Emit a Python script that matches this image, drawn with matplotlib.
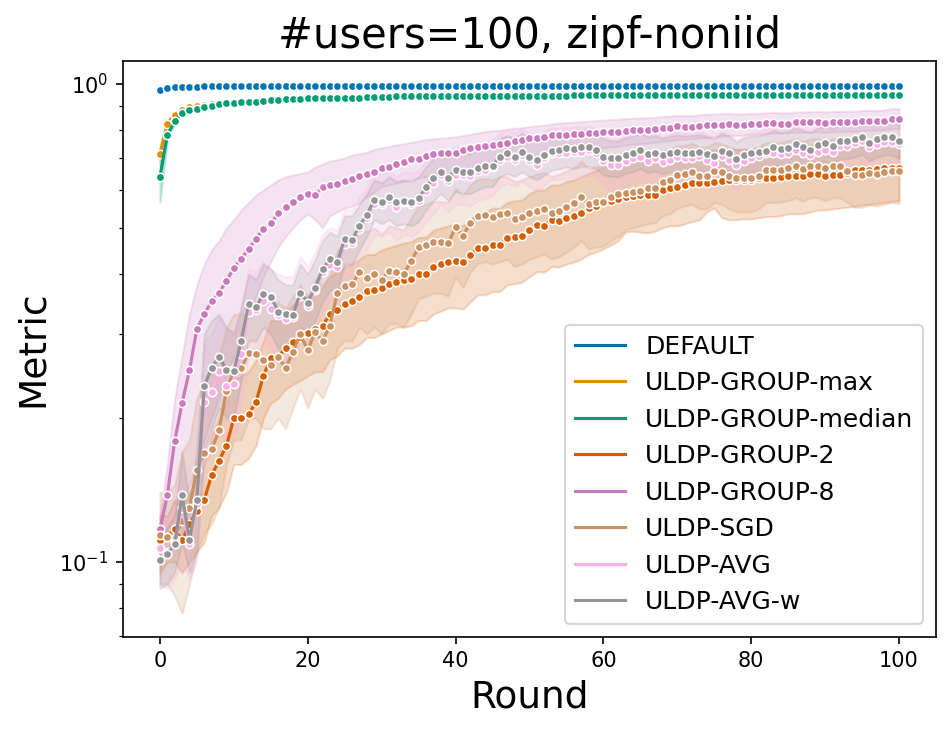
# imports
import numpy                as np
import matplotlib
matplotlib.use("Agg")
import matplotlib.pyplot    as plt
from matplotlib.lines import Line2D


# rounds 0..100
rounds = np.arange(101)

# mean metric per round
default_mean = [0.972, 0.982, 0.985, 0.986, 0.987, 0.987, 0.988, 0.988, 0.988, 0.988,
                0.988, 0.989, 0.989, 0.989, 0.989, 0.989, 0.989, 0.989, 0.990, 0.990,
                0.990, 0.990, 0.990, 0.990, 0.990, 0.990, 0.990, 0.990, 0.990, 0.990,
                0.990, 0.990, 0.990, 0.990, 0.990, 0.990, 0.990, 0.990, 0.990, 0.990,
                0.990, 0.990, 0.990, 0.990, 0.990, 0.990, 0.990, 0.990, 0.990, 0.990,
                0.990, 0.990, 0.990, 0.990, 0.990, 0.990, 0.990, 0.990, 0.990, 0.990,
                0.990, 0.990, 0.990, 0.990, 0.990, 0.990, 0.990, 0.990, 0.990, 0.990,
                0.990, 0.990, 0.990, 0.990, 0.990, 0.990, 0.990, 0.990, 0.990, 0.990,
                0.990, 0.990, 0.990, 0.990, 0.990, 0.990, 0.990, 0.990, 0.990, 0.990,
                0.990, 0.990, 0.990, 0.990, 0.990, 0.990, 0.990, 0.990, 0.990, 0.990, 0.990]

max_mean = [0.714, 0.826, 0.863, 0.883, 0.893, 0.900, 0.905, 0.909, 0.913, 0.915,
            0.917, 0.919, 0.921, 0.922, 0.924, 0.927, 0.928, 0.930, 0.931, 0.933,
            0.934, 0.934, 0.934, 0.935, 0.935, 0.937, 0.937, 0.937, 0.940, 0.940,
            0.942, 0.942, 0.943, 0.943, 0.943, 0.944, 0.944, 0.944, 0.944, 0.944,
            0.944, 0.945, 0.945, 0.945, 0.945, 0.945, 0.945, 0.945, 0.945, 0.946,
            0.946, 0.946, 0.946, 0.946, 0.946, 0.946, 0.947, 0.947, 0.947, 0.947,
            0.947, 0.947, 0.947, 0.947, 0.947, 0.947, 0.948, 0.948, 0.948, 0.948,
            0.948, 0.948, 0.948, 0.948, 0.948, 0.948, 0.948, 0.948, 0.948, 0.948,
            0.948, 0.948, 0.949, 0.949, 0.949, 0.949, 0.949, 0.949, 0.949, 0.949,
            0.949, 0.949, 0.949, 0.949, 0.949, 0.949, 0.949, 0.949, 0.949, 0.949, 0.949]

median_mean = [0.638, 0.781, 0.836, 0.868, 0.880, 0.886, 0.894, 0.901, 0.908, 0.911,
               0.914, 0.916, 0.918, 0.918, 0.921, 0.926, 0.926, 0.929, 0.930, 0.932,
               0.933, 0.933, 0.933, 0.934, 0.934, 0.936, 0.936, 0.936, 0.939, 0.939,
               0.941, 0.941, 0.942, 0.942, 0.942, 0.943, 0.943, 0.943, 0.943, 0.943,
               0.943, 0.944, 0.944, 0.944, 0.944, 0.944, 0.944, 0.944, 0.944, 0.945,
               0.945, 0.945, 0.945, 0.945, 0.945, 0.945, 0.946, 0.946, 0.946, 0.946,
               0.946, 0.946, 0.946, 0.946, 0.946, 0.946, 0.947, 0.947, 0.947, 0.947,
               0.947, 0.947, 0.947, 0.947, 0.947, 0.947, 0.947, 0.947, 0.947, 0.947,
               0.947, 0.947, 0.948, 0.948, 0.948, 0.948, 0.948, 0.948, 0.948, 0.948,
               0.948, 0.948, 0.948, 0.948, 0.948, 0.948, 0.948, 0.948, 0.948, 0.948, 0.948]

g2_mean = [0.111, 0.113, 0.117, 0.111, 0.120, 0.128, 0.135, 0.152, 0.163, 0.175,
           0.200, 0.200, 0.204, 0.216, 0.245, 0.267, 0.268, 0.281, 0.289, 0.295,
           0.302, 0.307, 0.312, 0.330, 0.337, 0.347, 0.351, 0.358, 0.369, 0.370,
           0.374, 0.382, 0.386, 0.389, 0.391, 0.400, 0.400, 0.414, 0.421, 0.425,
           0.426, 0.424, 0.438, 0.453, 0.453, 0.461, 0.461, 0.476, 0.478, 0.480,
           0.494, 0.507, 0.505, 0.520, 0.518, 0.525, 0.530, 0.536, 0.549, 0.556,
           0.565, 0.570, 0.574, 0.579, 0.583, 0.586, 0.586, 0.586, 0.600, 0.605,
           0.610, 0.615, 0.620, 0.620, 0.620, 0.625, 0.627, 0.630, 0.630, 0.630,
           0.630, 0.635, 0.635, 0.635, 0.638, 0.642, 0.642, 0.642, 0.648, 0.648,
           0.642, 0.645, 0.645, 0.652, 0.661, 0.661, 0.661, 0.663, 0.666, 0.666, 0.666]

g8_mean = [0.117, 0.138, 0.179, 0.215, 0.252, 0.307, 0.330, 0.351, 0.366, 0.387,
           0.412, 0.431, 0.451, 0.475, 0.497, 0.511, 0.536, 0.554, 0.565, 0.581,
           0.588, 0.586, 0.608, 0.614, 0.617, 0.628, 0.632, 0.643, 0.648, 0.655,
           0.666, 0.671, 0.680, 0.688, 0.696, 0.697, 0.707, 0.714, 0.716, 0.716,
           0.718, 0.728, 0.734, 0.739, 0.742, 0.745, 0.749, 0.754, 0.761, 0.764,
           0.770, 0.772, 0.774, 0.782, 0.782, 0.782, 0.786, 0.786, 0.789, 0.791,
           0.792, 0.793, 0.795, 0.797, 0.800, 0.801, 0.801, 0.804, 0.808, 0.808,
           0.817, 0.812, 0.812, 0.817, 0.821, 0.821, 0.821, 0.825, 0.821, 0.821,
           0.825, 0.825, 0.828, 0.828, 0.825, 0.825, 0.832, 0.832, 0.832, 0.834,
           0.830, 0.832, 0.832, 0.832, 0.832, 0.838, 0.838, 0.836, 0.838, 0.843, 0.843]

sgd_mean = [0.114, 0.113, 0.112, 0.122, 0.130, 0.156, 0.169, 0.172, 0.189, 0.228,
            0.253, 0.254, 0.274, 0.273, 0.264, 0.258, 0.268, 0.255, 0.275, 0.300,
            0.277, 0.303, 0.290, 0.312, 0.365, 0.378, 0.381, 0.405, 0.393, 0.401,
            0.389, 0.407, 0.405, 0.401, 0.426, 0.455, 0.461, 0.468, 0.468, 0.464,
            0.502, 0.481, 0.513, 0.529, 0.532, 0.526, 0.535, 0.536, 0.521, 0.526,
            0.536, 0.543, 0.547, 0.536, 0.543, 0.552, 0.563, 0.581, 0.560, 0.565,
            0.567, 0.581, 0.589, 0.590, 0.594, 0.598, 0.605, 0.605, 0.625, 0.630,
            0.645, 0.648, 0.655, 0.642, 0.642, 0.659, 0.655, 0.642, 0.635, 0.635,
            0.635, 0.642, 0.661, 0.661, 0.661, 0.666, 0.674, 0.663, 0.674, 0.674,
            0.666, 0.674, 0.674, 0.659, 0.645, 0.645, 0.652, 0.648, 0.655, 0.659, 0.657]

avg_mean = [0.107, 0.105, 0.110, 0.130, 0.109, 0.132, 0.216, 0.227, 0.251, 0.234,
            0.236, 0.273, 0.334, 0.336, 0.352, 0.339, 0.329, 0.323, 0.326, 0.360,
            0.343, 0.370, 0.405, 0.418, 0.415, 0.462, 0.465, 0.497, 0.525, 0.562,
            0.560, 0.572, 0.554, 0.567, 0.561, 0.570, 0.598, 0.620, 0.645, 0.626,
            0.645, 0.645, 0.643, 0.656, 0.660, 0.669, 0.694, 0.703, 0.694, 0.710,
            0.694, 0.677, 0.700, 0.716, 0.716, 0.716, 0.722, 0.720, 0.726, 0.716,
            0.690, 0.677, 0.677, 0.690, 0.699, 0.705, 0.690, 0.700, 0.686, 0.694,
            0.705, 0.699, 0.699, 0.707, 0.694, 0.684, 0.707, 0.694, 0.677, 0.690,
            0.699, 0.707, 0.716, 0.716, 0.713, 0.716, 0.728, 0.718, 0.711, 0.722,
            0.728, 0.722, 0.741, 0.741, 0.754, 0.760, 0.737, 0.748, 0.756, 0.756, 0.748]

avgw_mean = [0.101, 0.104, 0.109, 0.138, 0.111, 0.135, 0.233, 0.255, 0.269, 0.252,
             0.251, 0.290, 0.347, 0.341, 0.364, 0.359, 0.334, 0.331, 0.329, 0.366,
             0.349, 0.375, 0.410, 0.430, 0.424, 0.475, 0.472, 0.505, 0.532, 0.573,
             0.567, 0.581, 0.565, 0.570, 0.565, 0.577, 0.608, 0.635, 0.655, 0.635,
             0.661, 0.653, 0.653, 0.666, 0.674, 0.674, 0.705, 0.716, 0.705, 0.722,
             0.705, 0.694, 0.711, 0.725, 0.728, 0.734, 0.730, 0.737, 0.737, 0.728,
             0.705, 0.699, 0.699, 0.710, 0.716, 0.728, 0.713, 0.718, 0.709, 0.716,
             0.720, 0.716, 0.718, 0.722, 0.714, 0.707, 0.725, 0.716, 0.696, 0.711,
             0.716, 0.719, 0.725, 0.737, 0.730, 0.734, 0.748, 0.737, 0.728, 0.745,
             0.751, 0.742, 0.760, 0.761, 0.767, 0.776, 0.754, 0.766, 0.774, 0.774, 0.761]

# confidence bands (lower / upper)
max_lo    = [0.680, 0.815, 0.858]
max_hi    = [0.745, 0.835, 0.868]
median_lo = [0.565, 0.760, 0.830]
median_hi = [0.700, 0.800, 0.845]

g2_lo = [0.095, 0.100, 0.100, 0.095, 0.100, 0.105, 0.110, 0.125, 0.130, 0.140,
         0.160, 0.160, 0.165, 0.175, 0.200, 0.215, 0.220, 0.230, 0.235, 0.240,
         0.245, 0.250, 0.250, 0.265, 0.270, 0.280, 0.280, 0.285, 0.295, 0.295,
         0.300, 0.305, 0.310, 0.310, 0.312, 0.320, 0.320, 0.330, 0.335, 0.340,
         0.340, 0.338, 0.350, 0.362, 0.362, 0.368, 0.368, 0.380, 0.382, 0.385,
         0.395, 0.405, 0.404, 0.415, 0.414, 0.420, 0.424, 0.430, 0.440, 0.445,
         0.452, 0.460, 0.470, 0.490, 0.492, 0.490, 0.488, 0.492, 0.500, 0.505,
         0.505, 0.510, 0.515, 0.520, 0.540, 0.550, 0.525, 0.520, 0.520, 0.522,
         0.522, 0.525, 0.528, 0.528, 0.530, 0.535, 0.535, 0.535, 0.540, 0.545,
         0.545, 0.548, 0.550, 0.552, 0.555, 0.558, 0.560, 0.562, 0.565, 0.568, 0.570]
g2_hi = [0.125, 0.125, 0.135, 0.130, 0.140, 0.150, 0.160, 0.185, 0.200, 0.215,
         0.240, 0.245, 0.250, 0.265, 0.290, 0.320, 0.320, 0.335, 0.345, 0.355,
         0.360, 0.370, 0.375, 0.395, 0.405, 0.415, 0.420, 0.430, 0.440, 0.440,
         0.450, 0.455, 0.460, 0.465, 0.468, 0.478, 0.478, 0.495, 0.500, 0.505,
         0.508, 0.505, 0.520, 0.540, 0.540, 0.550, 0.550, 0.565, 0.570, 0.572,
         0.590, 0.600, 0.600, 0.615, 0.615, 0.625, 0.630, 0.640, 0.650, 0.660,
         0.670, 0.675, 0.680, 0.685, 0.690, 0.695, 0.695, 0.695, 0.710, 0.712,
         0.715, 0.720, 0.725, 0.725, 0.725, 0.728, 0.728, 0.730, 0.730, 0.730,
         0.730, 0.735, 0.735, 0.735, 0.738, 0.740, 0.740, 0.740, 0.745, 0.745,
         0.740, 0.742, 0.742, 0.745, 0.750, 0.750, 0.750, 0.752, 0.755, 0.755, 0.755]

g8_lo = [0.108, 0.118, 0.125, 0.135, 0.145, 0.160, 0.180, 0.200, 0.220, 0.245,
         0.270, 0.300, 0.330, 0.360, 0.395, 0.425, 0.455, 0.480, 0.500, 0.520,
         0.535, 0.520, 0.500, 0.530, 0.540, 0.550, 0.555, 0.565, 0.580, 0.595,
         0.610, 0.615, 0.620, 0.625, 0.630, 0.635, 0.640, 0.645, 0.648, 0.650,
         0.655, 0.660, 0.665, 0.670, 0.675, 0.680, 0.685, 0.690, 0.695, 0.700,
         0.705, 0.708, 0.712, 0.718, 0.720, 0.722, 0.725, 0.728, 0.730, 0.732,
         0.735, 0.738, 0.740, 0.745, 0.748, 0.750, 0.752, 0.755, 0.758, 0.760,
         0.765, 0.765, 0.768, 0.770, 0.772, 0.775, 0.778, 0.780, 0.780, 0.782,
         0.785, 0.785, 0.788, 0.788, 0.788, 0.790, 0.792, 0.792, 0.792, 0.794,
         0.792, 0.794, 0.795, 0.795, 0.795, 0.798, 0.800, 0.800, 0.802, 0.805, 0.805]
g8_hi = [0.125, 0.160, 0.220, 0.270, 0.330, 0.380, 0.420, 0.450, 0.470, 0.500,
         0.520, 0.545, 0.565, 0.585, 0.600, 0.615, 0.630, 0.640, 0.645, 0.650,
         0.655, 0.670, 0.680, 0.690, 0.695, 0.700, 0.710, 0.715, 0.720, 0.730,
         0.735, 0.740, 0.745, 0.750, 0.755, 0.760, 0.765, 0.768, 0.770, 0.772,
         0.775, 0.780, 0.785, 0.790, 0.795, 0.798, 0.800, 0.805, 0.808, 0.810,
         0.815, 0.818, 0.820, 0.825, 0.828, 0.830, 0.832, 0.834, 0.836, 0.838,
         0.840, 0.842, 0.844, 0.846, 0.848, 0.849, 0.850, 0.852, 0.855, 0.856,
         0.860, 0.858, 0.858, 0.862, 0.864, 0.865, 0.866, 0.868, 0.866, 0.866,
         0.868, 0.868, 0.870, 0.872, 0.870, 0.870, 0.874, 0.874, 0.875, 0.876,
         0.874, 0.876, 0.876, 0.877, 0.877, 0.880, 0.882, 0.880, 0.882, 0.888, 0.888]

sgd_lo = [0.090, 0.090, 0.085, 0.078, 0.090, 0.105, 0.115, 0.120, 0.130, 0.160,
          0.180, 0.180, 0.200, 0.200, 0.190, 0.190, 0.200, 0.190, 0.210, 0.230,
          0.210, 0.230, 0.220, 0.240, 0.280, 0.290, 0.290, 0.310, 0.300, 0.310,
          0.300, 0.315, 0.315, 0.310, 0.330, 0.355, 0.360, 0.365, 0.365, 0.360,
          0.395, 0.375, 0.405, 0.420, 0.425, 0.420, 0.425, 0.430, 0.415, 0.420,
          0.430, 0.435, 0.440, 0.430, 0.435, 0.445, 0.455, 0.470, 0.452, 0.456,
          0.458, 0.470, 0.480, 0.495, 0.500, 0.505, 0.510, 0.512, 0.530, 0.535,
          0.550, 0.555, 0.560, 0.548, 0.548, 0.565, 0.560, 0.548, 0.540, 0.540,
          0.540, 0.548, 0.565, 0.565, 0.566, 0.570, 0.578, 0.568, 0.578, 0.578,
          0.570, 0.578, 0.578, 0.565, 0.552, 0.552, 0.558, 0.555, 0.560, 0.565, 0.562]
sgd_hi = [0.140, 0.140, 0.145, 0.170, 0.180, 0.220, 0.240, 0.250, 0.270, 0.310,
          0.330, 0.330, 0.350, 0.350, 0.350, 0.340, 0.350, 0.340, 0.360, 0.380,
          0.360, 0.390, 0.380, 0.400, 0.450, 0.460, 0.470, 0.500, 0.490, 0.500,
          0.485, 0.505, 0.500, 0.495, 0.525, 0.555, 0.560, 0.568, 0.568, 0.565,
          0.605, 0.585, 0.615, 0.632, 0.635, 0.630, 0.640, 0.640, 0.625, 0.630,
          0.640, 0.648, 0.652, 0.640, 0.648, 0.658, 0.668, 0.690, 0.665, 0.672,
          0.675, 0.690, 0.698, 0.690, 0.695, 0.698, 0.705, 0.705, 0.725, 0.728,
          0.742, 0.745, 0.752, 0.738, 0.738, 0.755, 0.750, 0.738, 0.730, 0.730,
          0.730, 0.738, 0.755, 0.755, 0.755, 0.762, 0.768, 0.758, 0.768, 0.768,
          0.760, 0.768, 0.768, 0.752, 0.738, 0.738, 0.745, 0.742, 0.748, 0.752, 0.750]

avg_lo = [0.090, 0.088, 0.092, 0.100, 0.092, 0.100, 0.160, 0.170, 0.190, 0.175,
          0.180, 0.215, 0.270, 0.275, 0.290, 0.280, 0.265, 0.260, 0.265, 0.295,
          0.280, 0.305, 0.335, 0.350, 0.345, 0.390, 0.395, 0.425, 0.450, 0.485,
          0.480, 0.490, 0.470, 0.485, 0.480, 0.490, 0.515, 0.535, 0.560, 0.540,
          0.560, 0.560, 0.555, 0.570, 0.575, 0.585, 0.610, 0.620, 0.610, 0.625,
          0.610, 0.595, 0.615, 0.630, 0.632, 0.632, 0.640, 0.638, 0.645, 0.635,
          0.610, 0.598, 0.598, 0.612, 0.620, 0.626, 0.612, 0.622, 0.608, 0.616,
          0.627, 0.621, 0.621, 0.630, 0.616, 0.606, 0.630, 0.616, 0.600, 0.612,
          0.621, 0.630, 0.638, 0.640, 0.636, 0.640, 0.652, 0.642, 0.634, 0.646,
          0.652, 0.646, 0.665, 0.666, 0.680, 0.686, 0.662, 0.674, 0.682, 0.682, 0.674]
avg_hi = [0.125, 0.122, 0.130, 0.165, 0.130, 0.175, 0.290, 0.300, 0.325, 0.305,
          0.305, 0.345, 0.410, 0.405, 0.425, 0.410, 0.400, 0.395, 0.395, 0.435,
          0.415, 0.445, 0.485, 0.500, 0.495, 0.545, 0.545, 0.580, 0.610, 0.650,
          0.645, 0.660, 0.640, 0.655, 0.650, 0.660, 0.690, 0.715, 0.735, 0.720,
          0.740, 0.735, 0.735, 0.750, 0.755, 0.765, 0.790, 0.800, 0.790, 0.805,
          0.790, 0.770, 0.795, 0.810, 0.810, 0.810, 0.815, 0.812, 0.818, 0.808,
          0.780, 0.765, 0.765, 0.780, 0.790, 0.795, 0.780, 0.790, 0.775, 0.785,
          0.795, 0.788, 0.788, 0.797, 0.783, 0.772, 0.797, 0.783, 0.765, 0.780,
          0.788, 0.795, 0.805, 0.805, 0.802, 0.805, 0.816, 0.806, 0.800, 0.812,
          0.818, 0.812, 0.830, 0.830, 0.840, 0.846, 0.825, 0.836, 0.842, 0.842, 0.836]

avgw_lo = [0.088, 0.090, 0.095, 0.110, 0.095, 0.105, 0.170, 0.190, 0.210, 0.200,
           0.200, 0.240, 0.290, 0.290, 0.310, 0.300, 0.280, 0.280, 0.280, 0.310,
           0.300, 0.320, 0.350, 0.370, 0.370, 0.420, 0.420, 0.450, 0.480, 0.520,
           0.510, 0.520, 0.505, 0.510, 0.505, 0.515, 0.545, 0.570, 0.590, 0.570,
           0.595, 0.590, 0.590, 0.600, 0.610, 0.610, 0.640, 0.650, 0.640, 0.655,
           0.640, 0.630, 0.645, 0.660, 0.665, 0.670, 0.665, 0.672, 0.672, 0.665,
           0.645, 0.640, 0.640, 0.650, 0.655, 0.665, 0.652, 0.657, 0.648, 0.655,
           0.658, 0.655, 0.657, 0.660, 0.653, 0.646, 0.663, 0.655, 0.636, 0.650,
           0.655, 0.658, 0.664, 0.675, 0.668, 0.672, 0.685, 0.675, 0.666, 0.682,
           0.688, 0.680, 0.697, 0.698, 0.703, 0.712, 0.690, 0.702, 0.710, 0.710, 0.698]
avgw_hi = [0.112, 0.118, 0.125, 0.170, 0.135, 0.170, 0.300, 0.320, 0.330, 0.310,
           0.300, 0.340, 0.400, 0.390, 0.420, 0.410, 0.390, 0.380, 0.380, 0.420,
           0.400, 0.430, 0.470, 0.490, 0.480, 0.530, 0.530, 0.560, 0.590, 0.630,
           0.620, 0.640, 0.625, 0.630, 0.625, 0.640, 0.670, 0.700, 0.720, 0.700,
           0.725, 0.715, 0.715, 0.730, 0.740, 0.740, 0.770, 0.780, 0.770, 0.790,
           0.770, 0.760, 0.775, 0.790, 0.792, 0.798, 0.795, 0.802, 0.802, 0.792,
           0.768, 0.760, 0.760, 0.772, 0.778, 0.790, 0.775, 0.780, 0.770, 0.778,
           0.782, 0.778, 0.780, 0.784, 0.776, 0.768, 0.788, 0.778, 0.756, 0.772,
           0.778, 0.780, 0.786, 0.800, 0.792, 0.796, 0.810, 0.800, 0.790, 0.808,
           0.815, 0.805, 0.824, 0.825, 0.830, 0.840, 0.818, 0.830, 0.838, 0.838, 0.825]

labels = ["DEFAULT", "ULDP-GROUP-max", "ULDP-GROUP-median", "ULDP-GROUP-2",
          "ULDP-GROUP-8", "ULDP-SGD", "ULDP-AVG", "ULDP-AVG-w"]
means  = [default_mean, max_mean, median_mean, g2_mean,
          g8_mean, sgd_mean, avg_mean, avgw_mean]
bands  = [None, (max_lo, max_hi), (median_lo, median_hi), (g2_lo, g2_hi),
          (g8_lo, g8_hi), (sgd_lo, sgd_hi), (avg_lo, avg_hi), (avgw_lo, avgw_hi)]

# seaborn "colorblind" palette
colors = ["#0173B2", "#DE8F05", "#029E73", "#D55E00",
          "#CC78BC", "#CA9161", "#FBAFE4", "#949494"]


# figure
fig = plt.figure(figsize=(951 / 150, 731 / 150), dpi=150)
ax  = fig.add_axes([0.1293, 0.129, 0.8549, 0.7876])

for lab, m, b, c in zip(labels, means, bands, colors):
    if b is not None:
        lo, hi = b
        ax.fill_between(rounds[:len(lo)], lo, hi, color=c, alpha=0.2)
    ax.plot(rounds, m, color=c, lw=1.5, marker="o", ms=4,
            markeredgecolor="w", markeredgewidth=0.75)

ax.set_yscale("log")
ax.set_xlim(-5, 105)
ax.set_ylim(0.0698, 1.117)

ax.set_title("#users=100, zipf-noniid", fontsize=20)
ax.set_xlabel("Round", fontsize=18)
ax.set_ylabel("Metric", fontsize=18)

handles = [Line2D([0], [0], color=c, lw=1.5) for c in colors]
ax.legend(handles, labels, loc="lower right", fontsize=12)

fig.savefig("out.png", dpi=150)
